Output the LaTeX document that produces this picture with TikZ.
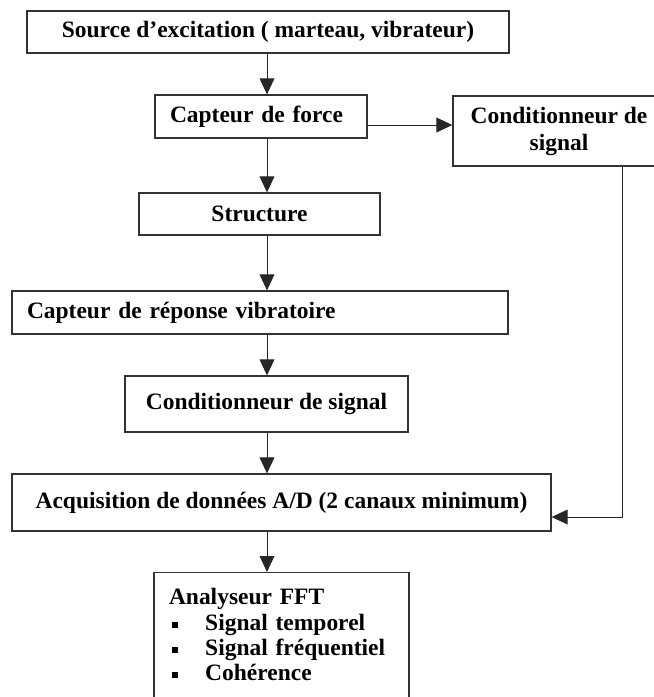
\documentclass[tikz,border=0pt]{standalone}
\usepackage{fontspec}
\setmainfont{Liberation Serif}
\usepackage{tikz}
\usetikzlibrary{arrows.meta}

\newcommand{\fftitem}[1]{\hspace*{0.075cm}\raisebox{0.06cm}{\rule{0.15cm}{0.15cm}}\hspace{0.68cm}#1}

\begin{document}
\begin{tikzpicture}[
  block/.style={draw=black!80, line width=0.9pt, minimum height=1.05cm,
              align=center, inner xsep=0.375cm,
              font=\fontsize{16.7}{19.2}\selectfont\bfseries},
  leftblock/.style={block, align=left},
  arr/.style={-{Triangle[length=0.4cm, width=0.37cm]}, line width=0.7pt, black!85}
]
  \useasboundingbox (0,0) rectangle (16.35,-17.425);
  \clip (0,0) rectangle (16.35,-17.425);

  % Chain of blocks
  \node[block, minimum width=12.05cm] (src) at (6.70,-0.80)
    {Source d’excitation ( marteau, vibrateur)};
  \node[leftblock, text width=4.55cm, minimum height=1.075cm] (force) at (6.525,-2.9125)
    {Capteur de force};
  \node[block, minimum width=5.3cm, minimum height=1.75cm] (cond1) at (13.975,-3.275)
    {Conditionneur de\\signal};
  \node[block, minimum width=6.025cm] (struct) at (6.4875,-5.35)
    {Structure};
  \node[leftblock, text width=11.65cm, minimum height=1.075cm] (resp) at (6.5,-7.8125)
    {Capteur de réponse vibratoire};
  \node[block, minimum width=7.075cm, minimum height=1.4cm] (cond2) at (6.6625,-10.1)
    {Conditionneur de signal};
  \node[block, minimum width=13.475cm, minimum height=1.425cm] (acq) at (7.0375,-12.5625)
    {Acquisition de données A/D (2 canaux minimum)};
  \node[leftblock, text width=5.625cm, inner ysep=0.4cm, anchor=north,
        font=\fontsize{16.7}{18}\selectfont\bfseries] (fft) at (7.0375,-14.3)
    {Analyseur FFT\\
     \fftitem{Signal temporel}\\
     \fftitem{Signal fréquentiel}\\
     \fftitem{Cohérence}\rule[-0.4cm]{0pt}{0.4cm}};

  % Helper points
  \coordinate (spine) at (6.675,0);
  \coordinate (tap) at (0,-3.125);
  \coordinate (rail) at (15.55,-12.925);

  % Arrows
  \draw[arr] (src.south -| spine) -- (force.north -| spine);
  \draw[arr] (force.south -| spine) -- (struct.north -| spine);
  \draw[arr] (struct.south -| spine) -- (resp.north -| spine);
  \draw[arr] (resp.south -| spine) -- (cond2.north -| spine);
  \draw[arr] (cond2.south -| spine) -- (acq.north -| spine);
  \draw[arr] (acq.south -| spine) -- (fft.north -| spine);
  \draw[arr] (force.east |- tap) -- (cond1.west |- tap);
  \draw[arr] (cond1.south -| rail) -- (rail) -- (acq.east |- rail);

\end{tikzpicture}
\end{document}
